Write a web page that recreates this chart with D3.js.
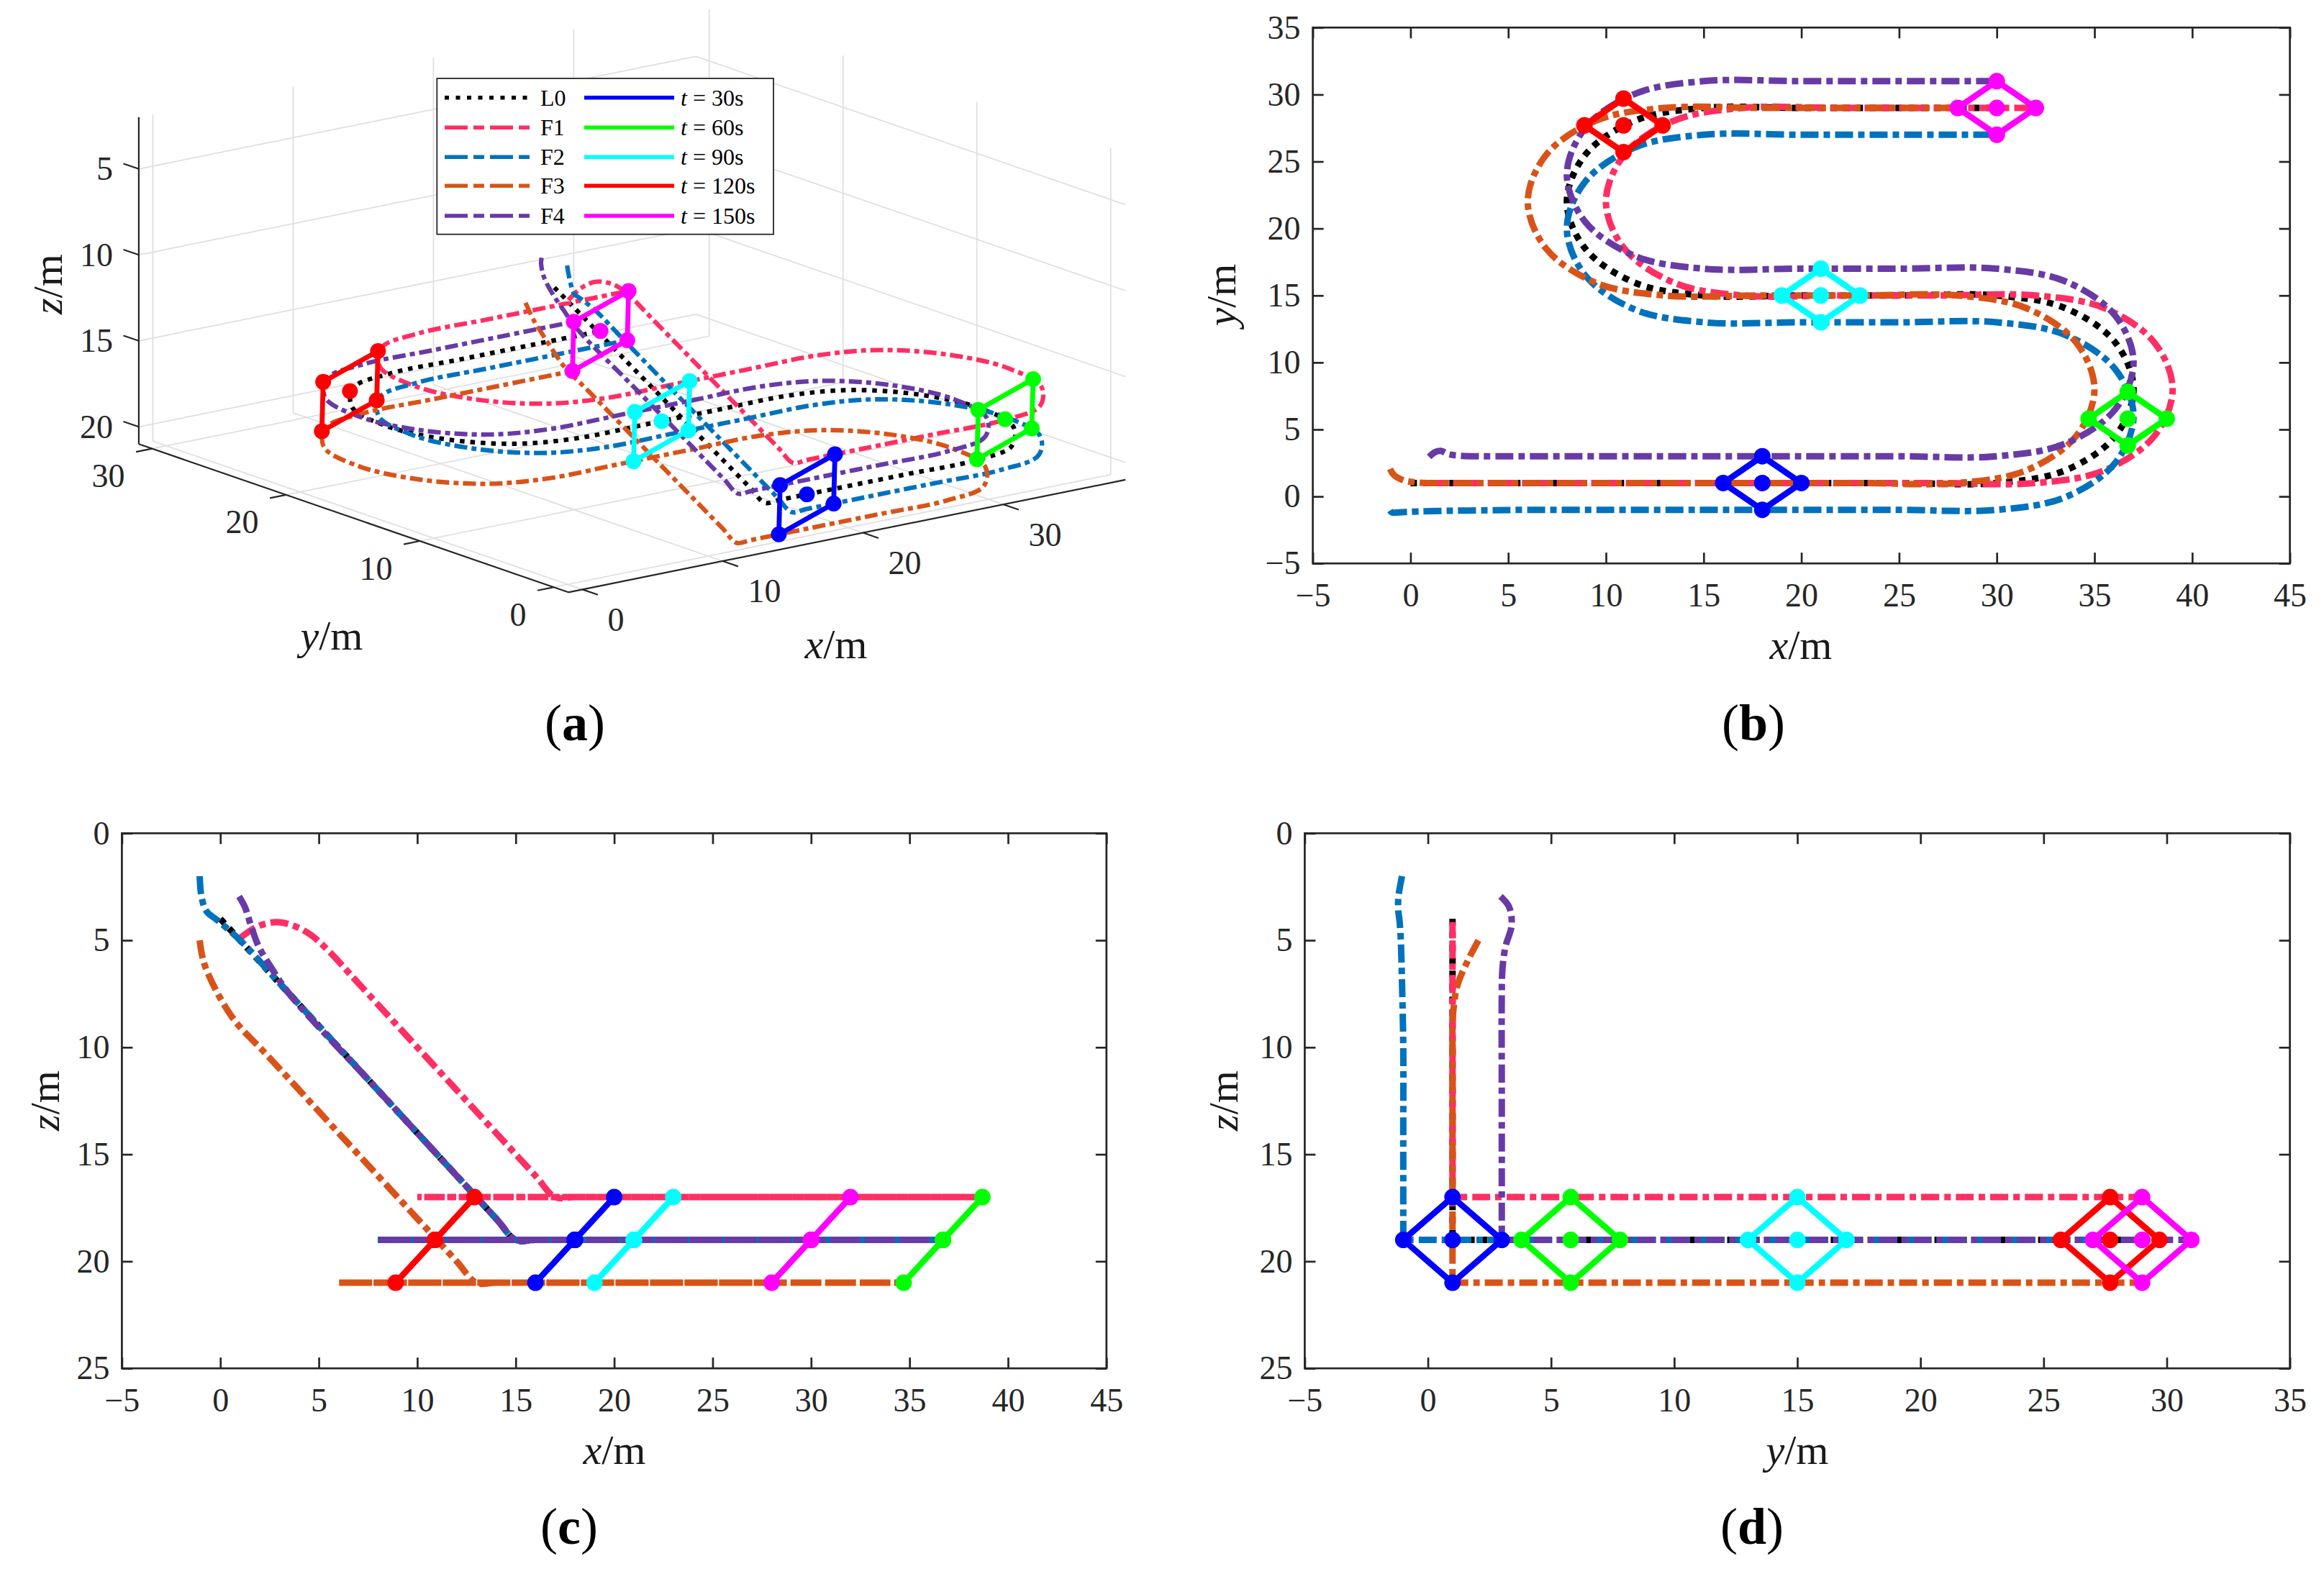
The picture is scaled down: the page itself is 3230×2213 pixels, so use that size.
<!DOCTYPE html>
<html><head><meta charset="utf-8">
<script src="https://cdn.jsdelivr.net/npm/d3@7"></script>
<style>body{margin:0;background:#fff}svg{display:block}</style>
</head><body>
<svg id="fig" width="3230" height="2213"></svg>
<script>
// ---------------- DATA (x, y, z in metres) ----------------
const L0 = [[0,1,4],[5,1,9],[10,1,14],[14,1,18],[15,1,19],[16,1,19],[20,1,19],[25,1,19],[30,1,19],[33.5,1.94,19],[36.06,4.5,19],[37,8,19],[36.06,11.5,19],[33.5,14.06,19],[30,15,19],[25,15,19],[20,15,19],[15,15,19],[11.5,15.94,19],[8.94,18.5,19],[8,22,19],[8.94,25.5,19],[11.5,28.06,19],[15,29,19],[20,29,19],[25,29,19],[30,29,19]];
const F1 = [[1,1,4.9],[1.9,1,4.35],[2.9,1,4.15],[3.8,1,4.35],[4.6,1,4.75],[5.5,1,5.5],[7,1,7],[12,1,12],[16,1,16],[17,1,17],[18,1,17],[22,1,17],[27,1,17],[32,1,17],[35.5,1.94,17],[38.06,4.5,17],[39,8,17],[38.06,11.5,17],[35.5,14.06,17],[32,15,17],[27,15,17],[22,15,17],[17,15,17],[13.5,15.94,17],[10.94,18.5,17],[10,22,17],[10.94,25.5,17],[13.5,28.06,17],[17,29,17],[22,29,17],[27,29,17],[32,29,17]];
const F2 = [[-1.05,-1.05,2],[-0.95,-1.2,3],[-0.7,-1.2,3.65],[-0.1,-1.15,4.1],[1,-1.1,5],[3,-1.05,7],[6,-1,10],[10,-1,14],[14,-1,18],[15,-1,19],[16,-1,19],[20,-1,19],[25,-1,19],[30,-1,19],[33.5,-0.06,19],[36.06,2.5,19],[37,6,19],[36.06,9.5,19],[33.5,12.06,19],[30,13,19],[25,13,19],[20,13,19],[15,13,19],[11.5,13.94,19],[8.94,16.5,19],[8,20,19],[8.94,23.5,19],[11.5,26.06,19],[15,27,19],[20,27,19],[25,27,19],[30,27,19]];
const F3 = [[-1.05,2.05,5],[-0.85,1.6,6],[-0.35,1.2,7.1],[0.25,1.05,8.1],[0.9,1,8.95],[2.2,1,10.2],[6,1,14],[10,1,18],[12,1,20],[13,1,21],[14,1,21],[18,1,21],[23,1,21],[28,1,21],[31.5,1.94,21],[34.06,4.5,21],[35,8,21],[34.06,11.5,21],[31.5,14.06,21],[28,15,21],[23,15,21],[18,15,21],[13,15,21],[9.5,15.94,21],[6.94,18.5,21],[6,22,21],[6.94,25.5,21],[9.5,28.06,21],[13,29,21],[18,29,21],[23,29,21],[28,29,21]];
const F4 = [[0.95,2.95,2.95],[1.25,3.3,3.45],[1.55,3.4,4.3],[1.95,3.15,5.3],[2.6,3.03,6.3],[3.5,3,7.5],[8,3,12],[14,3,18],[15,3,19],[16,3,19],[20,3,19],[25,3,19],[30,3,19],[33.5,3.94,19],[36.06,6.5,19],[37,10,19],[36.06,13.5,19],[33.5,16.06,19],[30,17,19],[25,17,19],[20,17,19],[15,17,19],[11.5,17.94,19],[8.94,20.5,19],[8,24,19],[8.94,27.5,19],[11.5,30.06,19],[15,31,19],[20,31,19],[25,31,19],[30,31,19]];
const seriesNames = ["L0","F1","F2","F3","F4"];

const snapTimes = [30,60,90,120,150];
const snapL0 = [[18,1,19],[36.7,5.8,19],[21,15,19],[10.9,27.7,19],[30,29,19]];
const snapF1 = [[20,1,17],[38.7,5.8,17],[23,15,17],[12.9,27.7,17],[32,29,17]];
const snapF2 = [[18,-1,19],[36.7,3.8,19],[21,13,19],[10.9,25.7,19],[30,27,19]];
const snapF3 = [[16,1,21],[34.7,5.8,21],[19,15,21],[8.9,27.7,21],[28,29,21]];
const snapF4 = [[18,3,19],[36.7,7.8,19],[21,17,19],[10.9,29.7,19],[30,31,19]];

const ticksX2d = [-5,0,5,10,15,20,25,30,35,40,45];
const ticksY2d = [-5,0,5,10,15,20,25,30,35];
const ticksZ2d = [0,5,10,15,20,25];
const ticksX3d = [0,10,20,30];
const ticksY3d = [0,10,20,30];
const ticksZ3d = [5,10,15,20];
const lim3d = {x:[-1,38.7], y:[-1.1,31], z:[2,21]};

// ---------------- STYLE ----------------
const seriesColor = ["#000000","#FF2E63","#0072BD","#D95319","#683AA6"];
const snapColor = ["#0000FF","#00FF00","#00FFFF","#FF0000","#FF00FF"];
const FONT = "'Liberation Serif','Times New Roman',serif";
const AX = "#262626";
const st2d = {lw:9, dash:"25,7,9,7", dot:"9,9", flw:8.5, r:11.5};
const st3d = {lw:6.2, dash:"18,6,7,6", dot:"6.5,8", flw:6.8, r:11};

const svg = d3.select("#fig");
svg.append("rect").attr("width",3230).attr("height",2213).attr("fill","#fff");

function drawContent(g, proj, st) {
  const line = d3.line().curve(d3.curveCatmullRom.alpha(0.5));
  [L0,F1,F2,F3,F4].forEach((s,i)=>{
    g.append("path").attr("d", line(s.map(proj))).attr("fill","none")
      .attr("stroke",seriesColor[i]).attr("stroke-width",st.lw)
      .attr("stroke-dasharray", i===0?st.dot:st.dash).attr("stroke-linecap","butt");
  });
  snapTimes.forEach((t,k)=>{
    const poly=[snapF1[k],snapF4[k],snapF3[k],snapF2[k],snapF1[k]].map(proj);
    g.append("path").attr("d", d3.line()(poly)+"Z").attr("fill","none")
      .attr("stroke",snapColor[k]).attr("stroke-width",st.flw).attr("stroke-linejoin","miter");
    [snapF1,snapF2,snapF3,snapF4,snapL0].forEach(a=>{
      const q=proj(a[k]);
      g.append("circle").attr("cx",q[0]).attr("cy",q[1]).attr("r",st.r).attr("fill",snapColor[k]);
    });
  });
}

function mathLabel(g, x, y, v, size, rot) {
  const t = g.append("text").attr("x",x).attr("y",y).attr("text-anchor","middle")
    .attr("dominant-baseline","central").attr("font-family",FONT).attr("font-size",size).attr("fill","#1a1a1a");
  if (rot) t.attr("transform",`rotate(-90,${x},${y})`);
  t.append("tspan").attr("font-style","italic").text(v);
  t.append("tspan").text("/m");
}
function caption(x, y, letter) {
  const t = svg.append("text").attr("x",x).attr("y",y).attr("text-anchor","middle")
    .attr("dominant-baseline","central").attr("font-family",FONT).attr("font-size",72).attr("fill","#000");
  t.append("tspan").text("(");
  t.append("tspan").attr("font-weight","bold").text(letter);
  t.append("tspan").text(")");
}

function frame(box, xs, ys, xt, yt) {
  const g = svg.append("g");
  const fmt = d3.format("d");
  g.append("g").attr("transform",`translate(0,${box.bottom})`)
    .call(d3.axisBottom(xs).tickValues(xt).tickSizeInner(-15).tickSizeOuter(0).tickPadding(27).tickFormat(fmt));
  g.append("g").attr("transform",`translate(0,${box.top})`)
    .call(d3.axisTop(xs).tickValues(xt).tickSizeInner(-15).tickSizeOuter(0).tickFormat(""));
  g.append("g").attr("transform",`translate(${box.left},0)`)
    .call(d3.axisLeft(ys).tickValues(yt).tickSizeInner(-15).tickSizeOuter(0).tickPadding(17).tickFormat(fmt));
  g.append("g").attr("transform",`translate(${box.right},0)`)
    .call(d3.axisRight(ys).tickValues(yt).tickSizeInner(-15).tickSizeOuter(0).tickFormat(""));
  g.selectAll(".domain").remove();
  g.selectAll(".tick line").attr("stroke",AX).attr("stroke-width",2.7);
  g.selectAll("g").attr("font-family",FONT).attr("font-size",46);
  g.selectAll("text").attr("fill",AX);
  g.append("rect").attr("x",box.left).attr("y",box.top).attr("width",box.right-box.left)
    .attr("height",box.bottom-box.top).attr("fill","none").attr("stroke",AX).attr("stroke-width",2.7);
}

// ---------------- PANEL (b): x-y ----------------
{
  const box = {left:1824.6,right:3182.6,top:38.3,bottom:783.2};
  const xs = d3.scaleLinear().domain([-5,45]).range([box.left,box.right]);
  const ys = d3.scaleLinear().domain([-5,35]).range([box.bottom,box.top]);
  drawContent(svg.append("g"), p=>[xs(p[0]),ys(p[1])], st2d);
  frame(box, xs, ys, ticksX2d, ticksY2d);
  mathLabel(svg, 2503, 896, "x", 58, false);
  mathLabel(svg, 1697, 410, "y", 58, true);
  caption(2437, 1005, "b");
}
// ---------------- PANEL (c): x-z ----------------
{
  const box = {left:169.4,right:1537.8,top:1158.3,bottom:1902.1};
  const xs = d3.scaleLinear().domain([-5,45]).range([box.left,box.right]);
  const zs = d3.scaleLinear().domain([0,25]).range([box.top,box.bottom]);
  drawContent(svg.append("g"), p=>[xs(p[0]),zs(p[2])], st2d);
  frame(box, xs, zs, ticksX2d, ticksZ2d);
  mathLabel(svg, 854, 2015, "x", 58, false);
  mathLabel(svg, 62, 1530, "z", 58, true);
  caption(791, 2122, "c");
}
// ---------------- PANEL (d): y-z ----------------
{
  const box = {left:1813.4,right:3182.6,top:1158.3,bottom:1902.1};
  const ys = d3.scaleLinear().domain([-5,35]).range([box.left,box.right]);
  const zs = d3.scaleLinear().domain([0,25]).range([box.top,box.bottom]);
  drawContent(svg.append("g"), p=>[ys(p[1]),zs(p[2])], st2d);
  frame(box, ys, zs, ticksY2d, ticksZ2d);
  mathLabel(svg, 2498, 2015, "y", 58, false);
  mathLabel(svg, 1700, 1530, "z", 58, true);
  caption(2435, 2122, "d");
}
// ---------------- PANEL (a): 3-D ----------------
{
  const g = svg.append("g");
  const origin = [790, 823.3];           // screen position of (xmin, ymin, zmax)
  const fx = d3.scaleLinear().domain(lim3d.x).range([0, 774.2]);
  const fxv = d3.scaleLinear().domain(lim3d.x).range([0, -156.4]);
  const fy = d3.scaleLinear().domain(lim3d.y).range([0, -597.1]);
  const fyv = d3.scaleLinear().domain(lim3d.y).range([0, -206.1]);
  const fz = d3.scaleLinear().domain([lim3d.z[1], lim3d.z[0]]).range([0, -454.1]);
  const proj = p => [origin[0]+fx(p[0])+fy(p[1]), origin[1]+fxv(p[0])+fyv(p[1])+fz(p[2])];
  const [x0,x1]=lim3d.x, [y0,y1]=lim3d.y, [z0,z1]=lim3d.z;
  const seg = (a,b,col,w)=>{const p=proj(a),q=proj(b);
    g.append("line").attr("x1",p[0]).attr("y1",p[1]).attr("x2",q[0]).attr("y2",q[1])
     .attr("stroke",col).attr("stroke-width",w);};
  const GC="#dedede", GW=1.7;
  ticksX3d.forEach(x=>seg([x,y1,z0],[x,y1,z1],GC,GW));
  ticksZ3d.forEach(z=>seg([x0,y1,z],[x1,y1,z],GC,GW));
  ticksY3d.forEach(y=>seg([x1,y,z0],[x1,y,z1],GC,GW));
  ticksZ3d.forEach(z=>seg([x1,y0,z],[x1,y1,z],GC,GW));
  ticksX3d.forEach(x=>seg([x,y0,z1],[x,y1,z1],GC,GW));
  ticksY3d.forEach(y=>seg([x0,y,z1],[x1,y,z1],GC,GW));
  seg([x0,y1,z0],[x0,y1,z1],AX,2.2);
  seg([x0,y0,z1],[x0,y1,z1],AX,2.2);
  seg([x0,y0,z1],[x1,y0,z1],AX,2.2);
  const lab = (x,y,txt,anchor)=>g.append("text").attr("x",x).attr("y",y).attr("text-anchor",anchor)
     .attr("dominant-baseline","central").attr("font-family",FONT).attr("font-size",46).attr("fill",AX).text(txt);
  ticksX3d.forEach(x=>{const p=proj([x,y0,z1]),q=proj([x,y0-1.15,z1]);
    g.append("line").attr("x1",p[0]).attr("y1",p[1]).attr("x2",q[0]).attr("y2",q[1]).attr("stroke",AX).attr("stroke-width",2.2);
    lab(p[0]+35,p[1]+42,d3.format("d")(x),"start");});
  ticksY3d.forEach(y=>{const p=proj([x0,y,z1]),q=proj([x0-1.15,y,z1]);
    g.append("line").attr("x1",p[0]).attr("y1",p[1]).attr("x2",q[0]).attr("y2",q[1]).attr("stroke",AX).attr("stroke-width",2.2);
    lab(p[0]-38,p[1]+38,d3.format("d")(y),"end");});
  ticksZ3d.forEach(z=>{const p=proj([x0,y1,z]),q=proj([x0,y1+1.15,z]);
    g.append("line").attr("x1",p[0]).attr("y1",p[1]).attr("x2",q[0]).attr("y2",q[1]).attr("stroke",AX).attr("stroke-width",2.2);
    lab(p[0]-36,p[1],d3.format("d")(z),"end");});
  drawContent(g, proj, st3d);
  mathLabel(svg, 1162, 895, "x", 58, false);
  mathLabel(svg, 461, 883, "y", 58, false);
  mathLabel(svg, 66, 395, "z", 58, true);
  caption(799, 1005, "a");

  // legend
  const lg = svg.append("g");
  lg.append("rect").attr("x",607.3).attr("y",109).attr("width",467.7).attr("height",216.7)
    .attr("fill","#fff").attr("stroke",AX).attr("stroke-width",1.8);
  const rowY = [135.7,177.3,218.3,258.3,300];
  seriesNames.forEach((n,i)=>{
    lg.append("line").attr("x1",618).attr("x2",737).attr("y1",rowY[i]).attr("y2",rowY[i])
      .attr("stroke",seriesColor[i]).attr("stroke-width",5.5)
      .attr("stroke-dasharray", i===0?"6,9.5":"32,8,15,8");
    lg.append("text").attr("x",751).attr("y",rowY[i]).attr("dominant-baseline","central")
      .attr("font-family",FONT).attr("font-size",32).attr("fill","#000").text(n);
  });
  snapTimes.forEach((t,k)=>{
    lg.append("line").attr("x1",812).attr("x2",937).attr("y1",rowY[k]).attr("y2",rowY[k])
      .attr("stroke",snapColor[k]).attr("stroke-width",5.5);
    const tx = lg.append("text").attr("x",946).attr("y",rowY[k]).attr("dominant-baseline","central")
      .attr("font-family",FONT).attr("font-size",32).attr("fill","#000");
    tx.append("tspan").attr("font-style","italic").text("t");
    tx.append("tspan").text(" = " + t + "s");
  });
}
</script>
</body></html>
